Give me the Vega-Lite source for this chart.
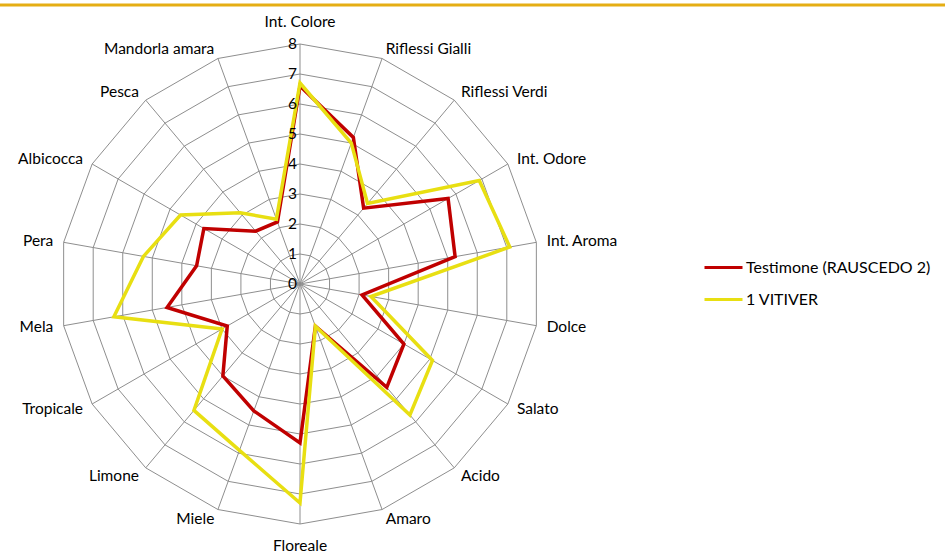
{
  "$schema": "https://vega.github.io/schema/vega-lite/v6.json",
  "width": 945,
  "height": 553,
  "autosize": {"type": "none"},
  "padding": 0,
  "background": "white",
  "config": {"view": {"stroke": null}, "font": "Lato"},
  "datasets": {
    "scores": [
      {"attr": "Int. Colore", "Testimone (RAUSCEDO  2)": 6.6, "1 VITIVER": 6.7},
      {"attr": "Riflessi Gialli", "Testimone (RAUSCEDO  2)": 5.2, "1 VITIVER": 5.0},
      {"attr": "Riflessi Verdi", "Testimone (RAUSCEDO  2)": 3.3, "1 VITIVER": 3.5},
      {"attr": "Int. Odore", "Testimone (RAUSCEDO  2)": 5.7, "1 VITIVER": 6.9},
      {"attr": "Int. Aroma", "Testimone (RAUSCEDO  2)": 5.25, "1 VITIVER": 7.1},
      {"attr": "Dolce", "Testimone (RAUSCEDO  2)": 2.1, "1 VITIVER": 2.4},
      {"attr": "Salato", "Testimone (RAUSCEDO  2)": 4.0, "1 VITIVER": 5.1},
      {"attr": "Acido", "Testimone (RAUSCEDO  2)": 4.5, "1 VITIVER": 5.7},
      {"attr": "Amaro", "Testimone (RAUSCEDO  2)": 1.5, "1 VITIVER": 1.5},
      {"attr": "Floreale", "Testimone (RAUSCEDO  2)": 5.3, "1 VITIVER": 7.3},
      {"attr": "Miele", "Testimone (RAUSCEDO  2)": 4.5, "1 VITIVER": 5.9},
      {"attr": "Limone", "Testimone (RAUSCEDO  2)": 4.0, "1 VITIVER": 5.5},
      {"attr": "Tropicale", "Testimone (RAUSCEDO  2)": 2.8, "1 VITIVER": 3.0},
      {"attr": "Mela", "Testimone (RAUSCEDO  2)": 4.5, "1 VITIVER": 6.3},
      {"attr": "Pera", "Testimone (RAUSCEDO  2)": 3.5, "1 VITIVER": 5.3},
      {"attr": "Albicocca", "Testimone (RAUSCEDO  2)": 3.7, "1 VITIVER": 4.6},
      {"attr": "Pesca", "Testimone (RAUSCEDO  2)": 2.3, "1 VITIVER": 3.1},
      {"attr": "Mandorla amara", "Testimone (RAUSCEDO  2)": 2.2, "1 VITIVER": 2.3}
    ],
    "levels": [
      {"level": 1}, {"level": 2}, {"level": 3}, {"level": 4},
      {"level": 5}, {"level": 6}, {"level": 7}, {"level": 8}
    ],
    "ticks": [
      {"t": 0}, {"t": 1}, {"t": 2}, {"t": 3}, {"t": 4}, {"t": 5}, {"t": 6}, {"t": 7}, {"t": 8}
    ]
  },
  "layer": [
    {
      "data": {"values": [{"k": 1}]},
      "mark": {"type": "rule", "color": "#E5AE14", "strokeWidth": 3},
      "encoding": {"y": {"datum": 9.3, "type": "quantitative", "scale": {"domain": [-8.9667, 9.4667]}, "axis": null}}
    },
    {
      "data": {"name": "scores"},
      "transform": [
        {"window": [{"op": "row_number", "as": "n"}]},
        {"calculate": "(datum.n - 1) * PI / 9", "as": "ang"},
        {"calculate": "0", "as": "o"}
      ],
      "layer": [
        {
          "transform": [
            {"calculate": "8 * sin(datum.ang)", "as": "x"},
            {"calculate": "8 * cos(datum.ang)", "as": "y"}
          ],
          "mark": {"type": "rule", "color": "#8E8E8E", "strokeWidth": 1},
          "encoding": {
            "x": {"field": "o", "type": "quantitative", "scale": {"domain": [-10, 21.5]}, "axis": null},
            "y": {"field": "o", "type": "quantitative", "scale": {"domain": [-8.9667, 9.4667]}, "axis": null},
            "x2": {"field": "x"},
            "y2": {"field": "y"}
          }
        },
        {
          "transform": [
            {"calculate": "abs(sin(datum.ang)) < 0.01 ? 8.75 : 8.35", "as": "lr"},
            {"calculate": "datum.lr * sin(datum.ang)", "as": "x"},
            {"calculate": "datum.lr * cos(datum.ang)", "as": "y"},
            {"calculate": "sin(datum.ang) > 0.01 ? 'left' : (sin(datum.ang) < -0.01 ? 'right' : 'center')", "as": "al"}
          ],
          "layer": [
            {
              "transform": [{"filter": "datum.al == 'left'"}],
              "mark": {"type": "text", "align": "left", "baseline": "middle", "fontSize": 15.5, "color": "#000000"},
              "encoding": {
                "x": {"field": "x", "type": "quantitative", "scale": {"domain": [-10, 21.5]}, "axis": null},
                "y": {"field": "y", "type": "quantitative", "scale": {"domain": [-8.9667, 9.4667]}, "axis": null},
                "text": {"field": "attr"}
              }
            },
            {
              "transform": [{"filter": "datum.al == 'right'"}],
              "mark": {"type": "text", "align": "right", "baseline": "middle", "fontSize": 15.5, "color": "#000000"},
              "encoding": {
                "x": {"field": "x", "type": "quantitative", "scale": {"domain": [-10, 21.5]}, "axis": null},
                "y": {"field": "y", "type": "quantitative", "scale": {"domain": [-8.9667, 9.4667]}, "axis": null},
                "text": {"field": "attr"}
              }
            },
            {
              "transform": [{"filter": "datum.al == 'center'"}],
              "mark": {"type": "text", "align": "center", "baseline": "middle", "fontSize": 15.5, "color": "#000000"},
              "encoding": {
                "x": {"field": "x", "type": "quantitative", "scale": {"domain": [-10, 21.5]}, "axis": null},
                "y": {"field": "y", "type": "quantitative", "scale": {"domain": [-8.9667, 9.4667]}, "axis": null},
                "text": {"field": "attr"}
              }
            }
          ]
        }
      ]
    },
    {
      "data": {"name": "levels"},
      "transform": [
        {"calculate": "[0,1,2,3,4,5,6,7,8,9,10,11,12,13,14,15,16,17]", "as": "idx"},
        {"flatten": ["idx"]},
        {"calculate": "datum.level * sin(datum.idx * PI / 9)", "as": "x"},
        {"calculate": "datum.level * cos(datum.idx * PI / 9)", "as": "y"}
      ],
      "mark": {"type": "line", "interpolate": "linear-closed", "color": "#8E8E8E", "strokeWidth": 1},
      "encoding": {
        "x": {"field": "x", "type": "quantitative", "scale": {"domain": [-10, 21.5]}, "axis": null},
        "y": {"field": "y", "type": "quantitative", "scale": {"domain": [-8.9667, 9.4667]}, "axis": null},
        "detail": {"field": "level"},
        "order": {"field": "idx"}
      }
    },
    {
      "data": {"name": "scores"},
      "transform": [
        {"window": [{"op": "row_number", "as": "n"}]},
        {"calculate": "(datum.n - 1) * PI / 9", "as": "ang"},
        {"fold": ["Testimone (RAUSCEDO  2)", "1 VITIVER"], "as": ["series", "value"]},
        {"calculate": "datum.value * sin(datum.ang)", "as": "x"},
        {"calculate": "datum.value * cos(datum.ang)", "as": "y"}
      ],
      "mark": {"type": "line", "interpolate": "linear-closed", "strokeWidth": 3.5, "strokeJoin": "miter"},
      "encoding": {
        "x": {"field": "x", "type": "quantitative", "scale": {"domain": [-10, 21.5]}, "axis": null},
        "y": {"field": "y", "type": "quantitative", "scale": {"domain": [-8.9667, 9.4667]}, "axis": null},
        "color": {
          "field": "series",
          "type": "nominal",
          "sort": ["Testimone (RAUSCEDO  2)", "1 VITIVER"],
          "scale": {"domain": ["Testimone (RAUSCEDO  2)", "1 VITIVER"], "range": ["#C00000", "#E8DF12"]},
          "legend": {
            "title": null,
            "orient": "none",
            "legendX": 703,
            "legendY": 247,
            "symbolType": "stroke",
            "symbolSize": 1444,
            "symbolStrokeWidth": 3,
            "labelFontSize": 16,
            "labelFont": "Lato",
            "labelColor": "#000000",
            "labelOffset": 2,
            "rowPadding": 3,
            "labelLimit": 300
          }
        },
        "order": {"field": "n"}
      }
    },
    {
      "data": {"name": "ticks"},
      "transform": [{"calculate": "0", "as": "o"}],
      "mark": {"type": "text", "align": "right", "baseline": "middle", "dx": -3, "fontSize": 15.5, "color": "#000000"},
      "encoding": {
        "x": {"field": "o", "type": "quantitative", "scale": {"domain": [-10, 21.5]}, "axis": null},
        "y": {"field": "t", "type": "quantitative", "scale": {"domain": [-8.9667, 9.4667]}, "axis": null},
        "text": {"field": "t"}
      }
    }
  ]
}
